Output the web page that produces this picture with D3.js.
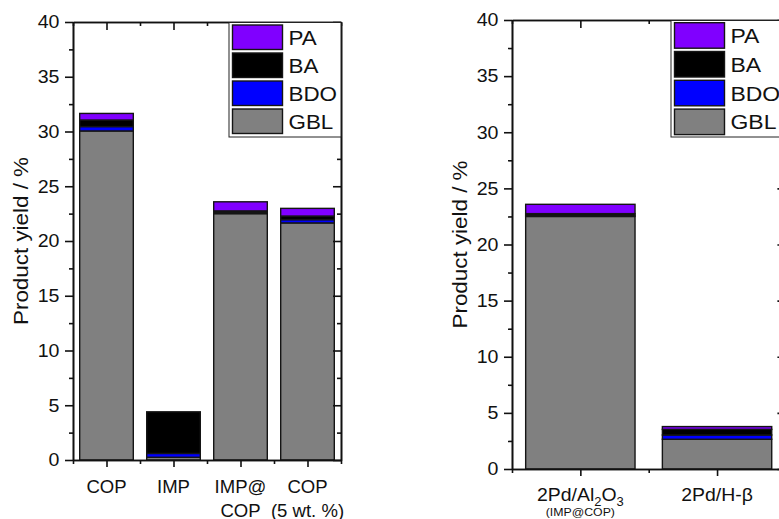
<!DOCTYPE html>
<html><head><meta charset="utf-8">
<script src="https://cdn.jsdelivr.net/npm/d3@7"></script>
<style>
body{margin:0;background:#fff}
svg{display:block}
text{font-family:"Liberation Sans",Arial,sans-serif;fill:#111}
</style>
</head><body><svg id="c" width="779" height="519"></svg>
<script>
// ---------- data ----------
const seriesNames = ["GBL", "BDO", "BA", "PA"];
const seriesColors = ["#808080", "#0000ff", "#000000", "#8000ff"];
const legendOrder = ["PA", "BA", "BDO", "GBL"];
const yMajorTicks = [0, 5, 10, 15, 20, 25, 30, 35, 40];
const yMinorTicks = [2.5, 7.5, 12.5, 17.5, 22.5, 27.5, 32.5, 37.5];

const leftCategories = ["COP", "IMP", "IMP@COP", "COP (5 wt. %)"];
const leftLabelLines = [["COP"], ["IMP"], ["IMP@", "COP"], ["COP", "(5 wt. %)"]];
const leftGBL = [30.05, 0.25, 22.5, 21.65];
const leftBDO = [0.4, 0.35, 0.12, 0.3];
const leftBA  = [0.6, 3.8, 0.13, 0.33];
const leftPA  = [0.6, 0.0, 0.83, 0.7];

const rightCategories = ["2Pd/Al2O3 (IMP@COP)", "2Pd/H-β"];
const rightGBL = [22.5, 2.65];
const rightBDO = [0.12, 0.38];
const rightBA  = [0.13, 0.5];
const rightPA  = [0.83, 0.25];

const yTitle = "Product yield / %";

// ---------- drawing ----------
const SX = 1.12;
const svg = d3.select("#c");

function txt(g, x, y, s, size, anchor, rot, sx) {
  return g.append("text")
    .attr("transform", `translate(${x},${y}) rotate(${rot || 0}) scale(${sx || SX},1)`)
    .attr("text-anchor", anchor || "middle")
    .style("font-size", size + "px")
    .text(s);
}

function drawPanel(cfg) {
  const g = svg.append("g");
  const x = d3.scaleBand().domain(cfg.categories).range([cfg.x0, cfg.x1])
    .paddingInner(0.2).paddingOuter(0.1);
  const y = d3.scaleLinear().domain([0, 40]).range([cfg.yBot, cfg.yTop]);

  const rows = cfg.categories.map((c, i) => ({
    cat: c, GBL: cfg.GBL[i], BDO: cfg.BDO[i], BA: cfg.BA[i], PA: cfg.PA[i]
  }));
  const stack = d3.stack().keys(seriesNames)(rows);

  stack.forEach((layer, li) => {
    g.append("g").selectAll("rect").data(layer).join("rect")
      .attr("x", d => x(d.data.cat))
      .attr("width", x.bandwidth())
      .attr("y", d => y(d[1]))
      .attr("height", d => Math.max(0, y(d[0]) - y(d[1])))
      .attr("fill", seriesColors[li])
      .attr("stroke", "#151515")
      .attr("stroke-width", 1.4)
      .attr("display", d => (d[1] - d[0]) > 0 ? null : "none");
  });

  const centers = cfg.categories.map(c => x(c) + x.bandwidth() / 2);
  const gap = (x.step() - x.bandwidth()) / 2;
  const bounds = cfg.categories.map(c => x(c) - gap).concat([cfg.x1]);
  const xl = d3.scaleLinear().domain([cfg.x0, cfg.x1]).range([cfg.x0, cfg.x1]);

  function style(a) {
    a.selectAll("path,line").attr("stroke", "#111").attr("stroke-width", 1.6);
    a.selectAll("text").remove();
  }
  // left axis (outward)
  g.append("g").attr("transform", `translate(${cfg.x0},0)`)
    .call(d3.axisLeft(y).tickValues(yMajorTicks).tickSize(8).tickSizeOuter(0).tickFormat("")).call(style);
  g.append("g").attr("transform", `translate(${cfg.x0},0)`)
    .call(d3.axisLeft(y).tickValues(yMinorTicks).tickSize(4).tickSizeOuter(0).tickFormat("")).call(style);
  // right axis (inward)
  g.append("g").attr("transform", `translate(${cfg.x1},0)`)
    .call(d3.axisLeft(y).tickValues(yMajorTicks).tickSize(8).tickSizeOuter(0).tickFormat("")).call(style);
  g.append("g").attr("transform", `translate(${cfg.x1},0)`)
    .call(d3.axisLeft(y).tickValues(yMinorTicks).tickSize(4).tickSizeOuter(0).tickFormat("")).call(style);
  // bottom axis (outward)
  g.append("g").attr("transform", `translate(0,${cfg.yBot})`)
    .call(d3.axisBottom(xl).tickValues(centers).tickSize(7).tickSizeOuter(0).tickFormat("")).call(style);
  g.append("g").attr("transform", `translate(0,${cfg.yBot})`)
    .call(d3.axisBottom(xl).tickValues(bounds).tickSize(4).tickSizeOuter(0).tickFormat("")).call(style);
  // top axis (inward)
  g.append("g").attr("transform", `translate(0,${cfg.yTop})`)
    .call(d3.axisBottom(xl).tickValues(centers).tickSize(8).tickSizeOuter(0).tickFormat("")).call(style);
  g.append("g").attr("transform", `translate(0,${cfg.yTop})`)
    .call(d3.axisBottom(xl).tickValues(bounds).tickSize(4).tickSizeOuter(0).tickFormat("")).call(style);

  // y tick labels
  yMajorTicks.forEach(t => txt(g, cfg.x0 - 13.5, y(t) + 6.3, String(t), 17.5, "end"));
  // y title
  txt(g, cfg.titleX, (cfg.yTop + cfg.yBot) / 2, yTitle, 20, "middle", -90);

  // legend
  const lg = g.append("g");
  lg.append("rect").attr("x", cfg.lgX).attr("y", cfg.yTop + 0.5)
    .attr("width", cfg.x1 - cfg.lgX).attr("height", cfg.lgH)
    .attr("fill", "#fff").attr("stroke", "#222").attr("stroke-width", 1);
  legendOrder.forEach((name, i) => {
    const top = cfg.lgRow0 + i * cfg.lgStep;
    lg.append("rect").attr("x", cfg.lgX + 3.5).attr("y", top)
      .attr("width", 50).attr("height", cfg.lgSw)
      .attr("fill", seriesColors[seriesNames.indexOf(name)])
      .attr("stroke", "#151515").attr("stroke-width", 1.4);
    txt(lg, cfg.lgX + 59.5, top + cfg.lgSw / 2 + 7.5, name, cfg.lgFont, "start");
  });
  return { g, x, y, centers };
}

// left panel
const L = drawPanel({
  categories: leftCategories, GBL: leftGBL, BDO: leftBDO, BA: leftBA, PA: leftPA,
  x0: 73, x1: 341, yTop: 22, yBot: 460, titleX: 28,
  lgX: 229, lgH: 114.5, lgRow0: 25, lgStep: 28, lgSw: 24.5, lgFont: 20
});
leftLabelLines.forEach((lines, i) => {
  lines.forEach((s, j) => txt(L.g, L.centers[i], 492.5 + j * 24, s, 17.5, "middle", 0, 1.06));
});

// right panel
const R = drawPanel({
  categories: rightCategories, GBL: rightGBL, BDO: rightBDO, BA: rightBA, PA: rightPA,
  x0: 512, x1: 785.4, yTop: 20, yBot: 469, titleX: 467,
  lgX: 671, lgH: 116.5, lgRow0: 22.7, lgStep: 28.8, lgSw: 25.5, lgFont: 20.5
});
// label 1 with subscripts
{
  const t = R.g.append("text")
    .attr("transform", `translate(${R.centers[0]},500.5) scale(1.08,1)`)
    .attr("text-anchor", "middle").style("font-size", "18px");
  t.append("tspan").text("2Pd/Al");
  t.append("tspan").attr("dy", 5.5).style("font-size", "12px").text("2");
  t.append("tspan").attr("dy", -5.5).text("O");
  t.append("tspan").attr("dy", 5.5).style("font-size", "12px").text("3");
  txt(R.g, R.centers[0], 515.5, "(IMP@COP)", 11, "middle");
}
txt(R.g, R.centers[1], 500.5, "2Pd/H-β", 18, "middle", 0, 1.08);
</script>
</body></html>
